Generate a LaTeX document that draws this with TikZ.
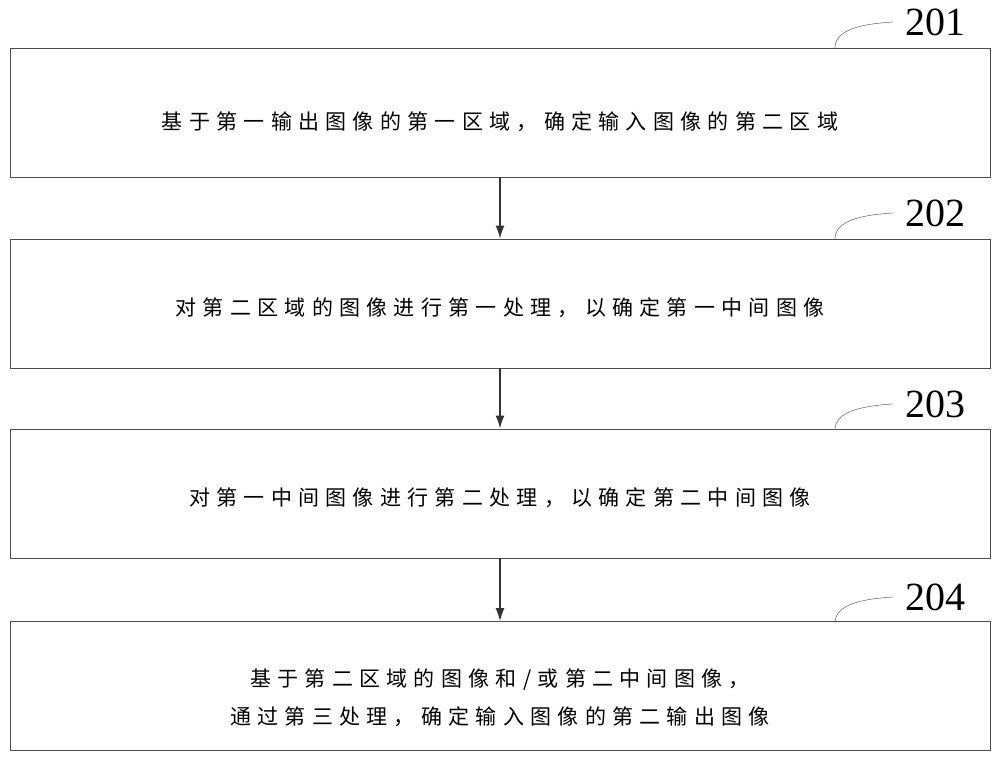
\documentclass[tikz,border=0pt]{standalone}
\usepackage{fontspec}
\setmainfont{Liberation Serif}
\newfontfamily\cjk[LetterSpace=30]{Noto Sans CJK SC}
\usetikzlibrary{arrows.meta}
\begin{document}
\begin{tikzpicture}[x=1pt,y=-1pt,
  stepbox/.style={draw=black!70,line width=0.8pt,minimum width=980pt,minimum height=129pt,inner sep=0pt},
  txt/.style={font=\cjk\fontsize{21}{38}\selectfont,align=center},
  lbl/.style={font=\fontsize{40}{40}\selectfont,anchor=west},
  arr/.style={-{Latex[length=13pt,width=9pt]},line width=1.5pt,draw=black!80},
  cv/.style={draw=black!55,line width=0.6pt}]
\useasboundingbox (0,0) rectangle (1000,759);
\node[stepbox] (b1) at (500,112.5) {};
\node[stepbox] (b2) at (500,303.5) {};
\node[stepbox] (b3) at (500,493.5) {};
\node[stepbox] (b4) at (500,686) {};
\node[txt] (t1) at (500,122) {基于第一输出图像的第一区域，确定输入图像的第二区域};
\node[txt] (t2) at (500,308) {对第二区域的图像进行第一处理，以确定第一中间图像};
\node[txt] (t3) at (500,498) {对第一中间图像进行第二处理，以确定第二中间图像};
\node[txt] (t4) at (500,698) {基于第二区域的图像和/或第二中间图像，\\通过第三处理，确定输入图像的第二输出图像};
\draw[arr] (b1.south) -- (b2.north);
\draw[arr] (b2.south) -- (b3.north);
\draw[arr] (b3.south) -- (b4.north);
\foreach \n/\y/\b in {201/22/b1,202/213/b2,203/404/b3,204/597/b4}{
  \node[lbl] (l\n) at (902,\y) {\n};
  \coordinate (c\n) at (835,\y+26);
  \coordinate (e\n) at (893,\y);
  \draw[cv] (c\n) .. controls (835,\y+8) and (860,\y+2) .. (e\n);
}
\end{tikzpicture}
\end{document}
